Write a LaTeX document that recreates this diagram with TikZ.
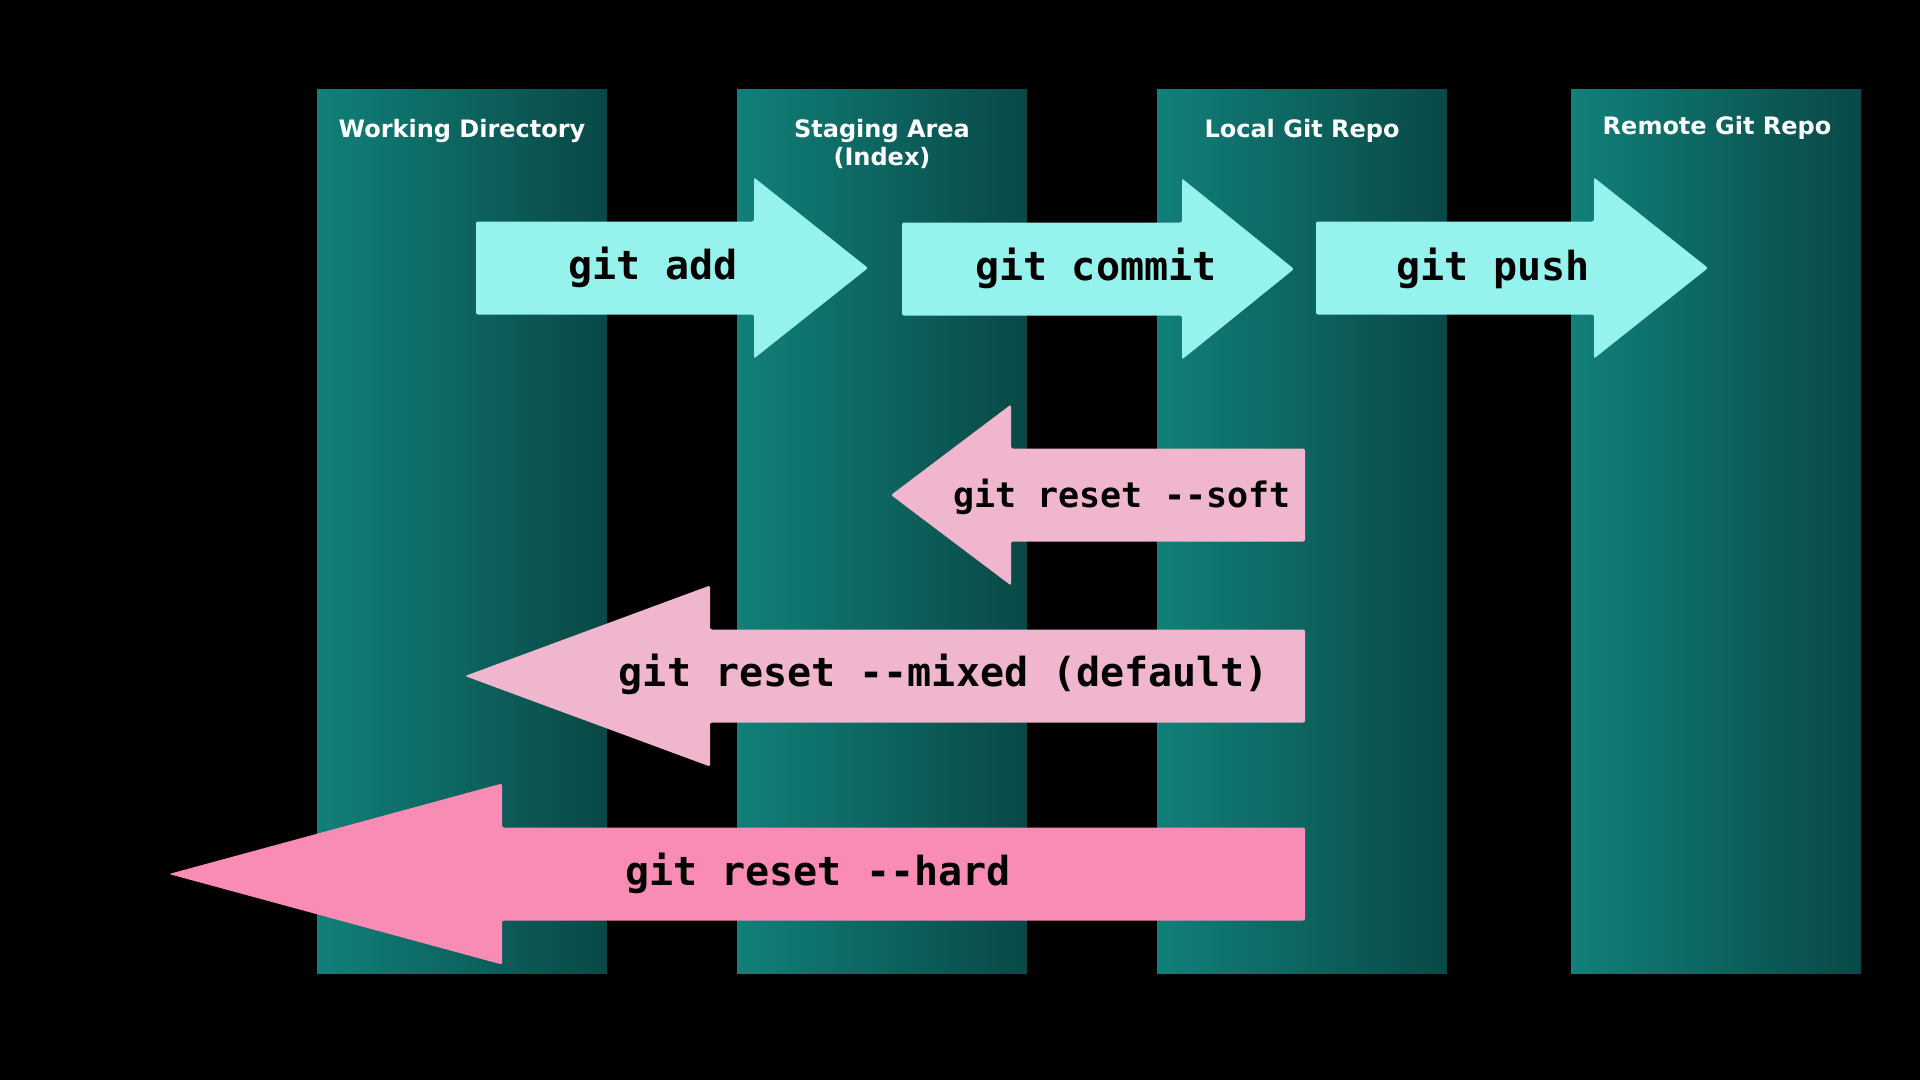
\documentclass[tikz,border=0pt]{standalone}
\usepackage{fontspec}
\setmainfont{DejaVu Sans}
\newfontfamily\monob{DejaVu Sans Mono}
\definecolor{colL}{RGB}{17,128,121}
\definecolor{colR}{RGB}{9,72,70}
\definecolor{cyanA}{RGB}{150,242,236}
\definecolor{pinkA}{RGB}{240,182,205}
\definecolor{pinkB}{RGB}{249,140,180}
\begin{document}
\begin{tikzpicture}[x=1pt,y=-1pt,
  col/.style={left color=colL, right color=colR, draw=none, inner sep=0pt, anchor=north west, minimum width=290pt, minimum height=884pt},
  hdr/.style={text=white, font=\bfseries\fontsize{24}{28}\selectfont, align=center},
  cmd/.style={font=\monob\bfseries\fontsize{40}{44}\selectfont, text=black, inner sep=0pt},
  arr/.style={rounded corners=2pt, draw=none}]
\fill[black] (0,0) rectangle (1920,1080);
\useasboundingbox (0,0) rectangle (1920,1080);
% columns
\node[col] (wd) at (317,89) {};
\node[col] (sa) at (737,89) {};
\node[col] (lr) at (1157,89) {};
\node[col] (rr) at (1571,89) {};
% headers
\node[hdr] (hwd) at (462,131) {Working Directory};
\node[hdr] (hsa) at (882,144) {Staging Area\\(Index)};
\node[hdr] (hlr) at (1302,131) {Local Git Repo};
\node[hdr] (hrr) at (1717,128) {Remote Git Repo};
% forward arrows
\fill[cyanA,arr] (476,221.5) -- (754,221.5) -- (754,177.5) -- (868,268) -- (754,358.5) -- (754,314.5) -- (476,314.5) -- cycle;
\fill[cyanA,arr] (902,222.5) -- (1182,222.5) -- (1182,178.5) -- (1294,269) -- (1182,359.5) -- (1182,315.5) -- (902,315.5) -- cycle;
\fill[cyanA,arr] (1316,221.5) -- (1594,221.5) -- (1594,177.5) -- (1708,268) -- (1594,358.5) -- (1594,314.5) -- (1316,314.5) -- cycle;
% reset arrows
\fill[pinkA,arr] (1305,448.5) -- (1011,448.5) -- (1011,404.5) -- (891,495) -- (1011,585.5) -- (1011,541.5) -- (1305,541.5) -- cycle;
\fill[pinkA,arr] (1305,629.5) -- (710,629.5) -- (710,585.5) -- (465,676) -- (710,766.5) -- (710,722.5) -- (1305,722.5) -- cycle;
\fill[pinkB,arr] (1305,827.5) -- (502,827.5) -- (502,783.5) -- (169,874) -- (502,964.5) -- (502,920.5) -- (1305,920.5) -- cycle;
% labels
\node[cmd] (tadd) at (653,267) {git add};
\node[cmd] (tcommit) at (1096,268) {git commit};
\node[cmd] (tpush) at (1493,268) {git push};
\node[cmd, font=\monob\bfseries\fontsize{35}{40}\selectfont] (tsoft) at (1122,497) {git reset --soft};
\node[cmd] (tmixed) at (944,674) {git reset --mixed (default)};
\node[cmd] (thard) at (818,873) {git reset --hard};
\end{tikzpicture}
\end{document}
